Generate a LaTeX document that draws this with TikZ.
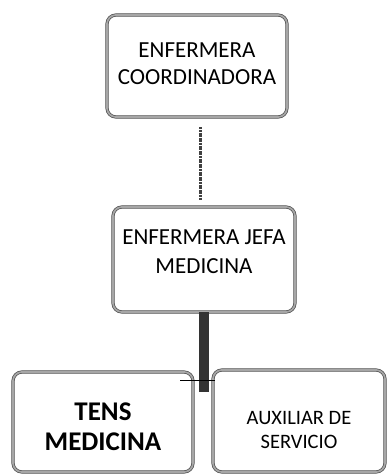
\documentclass[tikz,border=0pt]{standalone}
\usepackage{fontspec}
\setmainfont{Carlito}

\begin{document}
\begin{tikzpicture}[x=1pt,y=-1pt,
	box/.style={draw=black!70,double=black!35,double distance=1.8pt,line width=0.7pt,
		rounded corners=9pt,fill=white},
	lbl/.style={align=center,inner sep=0pt},
	link/.style={draw=black!75,line width=3pt,dash pattern=on 2pt off 0.6pt},
	bar/.style={draw=black!80,line width=10pt},
	tie/.style={draw=black,line width=0.8pt}]
	\useasboundingbox (0,0) rectangle (388,476);

	\begin{scope} % boxes
		\node[box,minimum width=180pt,minimum height=102pt] (coord) at (197,66) {};
		\node[box,minimum width=182pt,minimum height=105pt] (jefa) at (204,259.5) {};
		\node[box,minimum width=180pt,minimum height=100pt] (tens) at (103,422) {};
		\node[box,minimum width=172pt,minimum height=102pt] (aux) at (299,421) {};
	\end{scope}

	\begin{scope} % texts
		\node[lbl,font=\fontsize{23}{27}\selectfont] (coordtext) at ([yshift=2pt]coord)
			{ENFERMERA\\COORDINADORA};
		\node[lbl,font=\fontsize{23}{29}\selectfont] (jefatext) at ([yshift=8pt]jefa)
			{ENFERMERA JEFA\\MEDICINA};
		\node[lbl,font=\fontsize{27}{30}\selectfont\bfseries] (tenstext) at ([yshift=-5pt]tens)
			{TENS\\MEDICINA};
		\node[lbl,font=\fontsize{20.5}{24}\selectfont] (auxtext) at ([yshift=-9pt]aux)
			{AUXILIAR DE\\SERVICIO};
	\end{scope}

	\begin{scope} % lines
		\draw[link] ([xshift=3pt,yshift=-10pt]coord.south) -- ([xshift=-4pt,yshift=7pt]jefa.north);
		\coordinate (hub) at ([yshift=-80pt]jefa.south);
		\coordinate (split) at ([yshift=12pt]hub);
		\draw[bar] (jefa.south) -- (hub);
		\draw[tie] ([xshift=-24pt]split) -- ([xshift=11pt]split);
	\end{scope}
\end{tikzpicture}
\end{document}
